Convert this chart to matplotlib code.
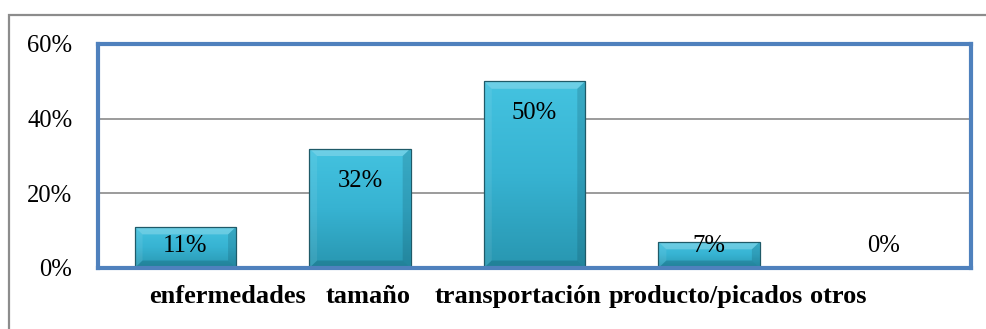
import matplotlib
matplotlib.use('Agg')
import matplotlib.pyplot as plt
import numpy as np
from matplotlib.colors import LinearSegmentedColormap
from matplotlib.patches import Polygon, Rectangle
from matplotlib.ticker import PercentFormatter
import matplotlib.transforms as mtransforms

plt.rcParams['font.family'] = ['Liberation Serif', 'DejaVu Serif']

# datos
categorias = ['enfermedades', 'tamaño', 'transportación', 'producto/picados', 'otros']
valores = [0.11, 0.32, 0.50, 0.07, 0.00]
etiquetas = ['11%', '32%', '50%', '7%', '0%']
ticks_y = [0.0, 0.2, 0.4, 0.6]

fig = plt.figure(figsize=(9.86, 3.29), dpi=100)
ax = fig.add_axes([98 / 986, 1 - 268 / 329, (971 - 98) / 986, (268 - 44) / 329])

# marco exterior del gráfico
fig.patches.append(Rectangle((9 / 986, -0.2), 1.2, 1.2 - 15 / 329,
                             transform=fig.transFigure, fill=False,
                             edgecolor='#8c8c8c', linewidth=1.6))

x = np.arange(len(categorias))
ancho = 0.58
barras = ax.bar(x, valores, width=ancho, color='#36b0cf', edgecolor='none', zorder=2)

degradado = LinearSegmentedColormap.from_list('barra', ['#2896b0', '#37b3d2', '#44c3e0'])
grad = np.linspace(0, 1, 256).reshape(-1, 1)

bx, by = 0.045, 0.02
for b in barras:
    x0, w, h = b.get_x(), b.get_width(), b.get_height()
    if h <= 0:
        continue
    x1 = x0 + w
    im = ax.imshow(grad, cmap=degradado, extent=[x0, x1, 0, h], origin='lower',
                   aspect='auto', zorder=2.1)
    im.set_clip_path(b)
    # biselado
    ax.add_patch(Polygon([(x0, h), (x1, h), (x1 - bx, h - by), (x0 + bx, h - by)],
                         closed=True, facecolor='white', alpha=0.22, edgecolor='none', zorder=2.2))
    ax.add_patch(Polygon([(x0, 0), (x0, h), (x0 + bx, h - by), (x0 + bx, by)],
                         closed=True, facecolor='white', alpha=0.08, edgecolor='none', zorder=2.2))
    ax.add_patch(Polygon([(x1, 0), (x1, h), (x1 - bx, h - by), (x1 - bx, by)],
                         closed=True, facecolor='#0b3a47', alpha=0.18, edgecolor='none', zorder=2.2))
    ax.add_patch(Polygon([(x0, 0), (x1, 0), (x1 - bx, by), (x0 + bx, by)],
                         closed=True, facecolor='#0b3a47', alpha=0.22, edgecolor='none', zorder=2.2))
    ax.add_patch(Rectangle((x0, 0), w, h, fill=False, edgecolor='#1f5a68',
                           linewidth=0.9, zorder=2.3))

# etiquetas de valor
for xi, v, txt in zip(x, valores, etiquetas):
    ax.text(xi, max(v - 0.086, 0.058), txt, ha='center', va='center',
            fontsize=17.7, color='black', zorder=3)

ax.set_xlim(-0.5, len(categorias) - 0.5)
ax.set_ylim(0, 0.6)
ax.set_yticks(ticks_y)
ax.yaxis.set_major_formatter(PercentFormatter(1.0, decimals=0))
ax.tick_params(axis='y', length=0, pad=18.5, labelsize=17.7)
ax.set_xticks([])

ax.yaxis.grid(True, color='#8a8a8a', linewidth=1.2, zorder=1)
ax.set_axisbelow(True)
for s in ax.spines.values():
    s.set_color('#4f81bd')
    s.set_linewidth(3)
    s.set_zorder(4)

# etiquetas de categoría (desplazadas para que no se solapen)
desplaz = [0.24, 0.046, -0.097, -0.02, -0.26]
trans = mtransforms.blended_transform_factory(ax.transData, ax.transAxes)
for xi, d, cat in zip(x, desplaz, categorias):
    ax.text(xi + d, -0.128, cat, transform=trans, ha='center', va='center',
            fontsize=19, fontweight='bold', color='black')

fig.savefig('out.png', dpi=100)
